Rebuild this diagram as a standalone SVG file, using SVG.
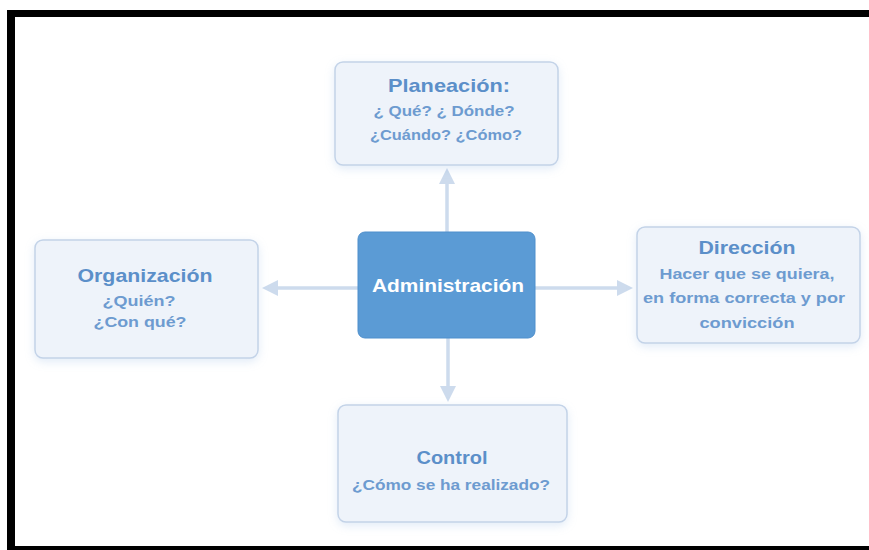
<svg xmlns="http://www.w3.org/2000/svg" width="869" height="550" viewBox="0 0 869 550">
<defs>
<style>
.box{fill:#eef3fa;stroke:#c3d3e8;stroke-width:1.5}
.t{font-family:"Liberation Sans",Arial,sans-serif;font-weight:bold;text-anchor:middle}
.title{font-size:19px;fill:#5b8fc9}
.sub{font-size:14px;fill:#6d9bd0}
.conn{stroke:#cddbed;stroke-width:3.5;fill:none}
.head{fill:#cddbed}
</style>
</defs>
<rect width="869" height="550" fill="#ffffff"/>
<g id="frame" fill="#000000">
<rect x="7" y="10" width="862" height="7"/>
<rect x="7" y="10" width="8" height="540"/>
<rect x="7" y="546" width="862" height="4"/>
</g>
<g id="connectors">
<line class="conn" x1="447" y1="232" x2="447" y2="180"/>
<polygon class="head" points="439,184 447,168 455,184"/>
<line class="conn" x1="448" y1="338" x2="448" y2="390"/>
<polygon class="head" points="440,386 448,402 456,386"/>
<line class="conn" x1="358" y1="288" x2="275" y2="288"/>
<polygon class="head" points="278,280 262,288 278,296"/>
<line class="conn" x1="535" y1="288" x2="620" y2="288"/>
<polygon class="head" points="617,280 633,288 617,296"/>
</g>
<g id="planeacion">
<rect class="box" x="335" y="62" width="223" height="103" rx="8" style="filter:drop-shadow(0 3px 5px rgba(91,143,208,0.18))"/>
<text class="t title" x="449" y="92" textLength="122" lengthAdjust="spacingAndGlyphs">Planeación:</text>
<text class="t sub" x="444" y="116" textLength="141" lengthAdjust="spacingAndGlyphs">¿ Qué? ¿ Dónde?</text>
<text class="t sub" x="446" y="140" textLength="152" lengthAdjust="spacingAndGlyphs">¿Cuándo? ¿Cómo?</text>
</g>
<g id="organizacion">
<rect class="box" x="35" y="240" width="223" height="118" rx="8" style="filter:drop-shadow(0 3px 5px rgba(91,143,208,0.18))"/>
<text class="t title" x="145" y="282" textLength="135" lengthAdjust="spacingAndGlyphs">Organización</text>
<text class="t sub" x="139" y="306" textLength="73" lengthAdjust="spacingAndGlyphs">¿Quién?</text>
<text class="t sub" x="140" y="327" textLength="93" lengthAdjust="spacingAndGlyphs">¿Con qué?</text>
</g>
<g id="administracion">
<rect x="358" y="232" width="177" height="106" rx="7" fill="#5b9bd5" stroke="#4f8fcc" stroke-width="1"/>
<text class="t" x="448" y="292" font-size="19" fill="#ffffff" textLength="152" lengthAdjust="spacingAndGlyphs">Administración</text>
</g>
<g id="direccion">
<rect class="box" x="637" y="227" width="223" height="116" rx="8" style="filter:drop-shadow(0 3px 5px rgba(91,143,208,0.18))"/>
<text class="t title" x="747" y="254" textLength="97" lengthAdjust="spacingAndGlyphs">Dirección</text>
<text class="t sub" x="747" y="279" textLength="175" lengthAdjust="spacingAndGlyphs">Hacer que se quiera,</text>
<text class="t sub" x="744" y="303" textLength="202" lengthAdjust="spacingAndGlyphs">en forma correcta y por</text>
<text class="t sub" x="747" y="328" textLength="95" lengthAdjust="spacingAndGlyphs">convicción</text>
</g>
<g id="control">
<rect class="box" x="338" y="405" width="229" height="117" rx="8" style="filter:drop-shadow(0 3px 5px rgba(91,143,208,0.18))"/>
<text class="t title" x="452" y="464" textLength="71" lengthAdjust="spacingAndGlyphs">Control</text>
<text class="t sub" x="451" y="490" textLength="198" lengthAdjust="spacingAndGlyphs">¿Cómo se ha realizado?</text>
</g>
</svg>
